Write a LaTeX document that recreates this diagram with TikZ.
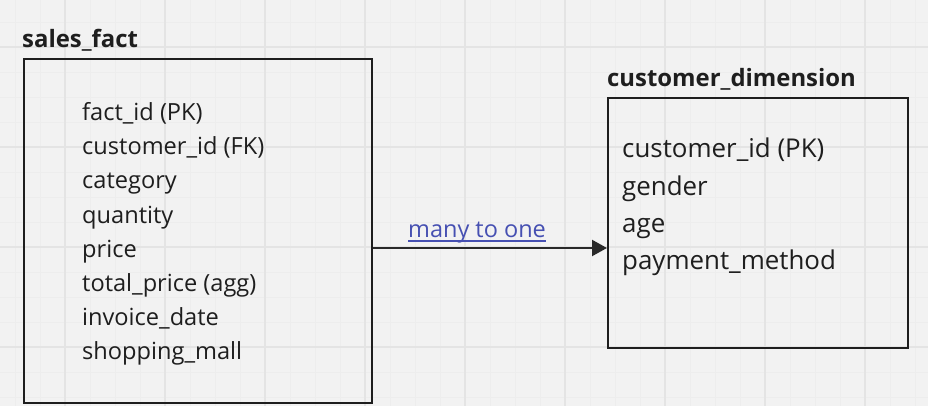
\documentclass[tikz,border=0pt]{standalone}
\usepackage{fontspec}
\setmainfont{Open Sans}
\usetikzlibrary{arrows.meta}
\definecolor{bgc}{HTML}{F2F2F2}
\definecolor{minorc}{HTML}{EDEDED}
\definecolor{majorc}{HTML}{E4E4E4}
\definecolor{ink}{HTML}{1E1E1E}
\definecolor{linkc}{RGB}{70,80,178}
\tikzset{
  tablebox/.style={draw=ink, line width=2.4pt, inner sep=0pt, anchor=north west},
  tabtitle/.style={anchor=base west, inner sep=0pt, text=ink, font=\fontsize{23.9}{28}\selectfont\bfseries},
  fieldL/.style={anchor=base west, inner sep=0pt, text=ink, font=\fontsize{23.6}{28}\selectfont},
  fieldR/.style={anchor=base west, inner sep=0pt, text=ink, font=\fontsize{25.9}{30}\selectfont},
  conn/.style={draw=ink!95, line width=2.2pt, -{Triangle[length=15pt,width=16pt]}},
  linklabel/.style={anchor=base west, inner sep=0pt, text=linkc, font=\fontsize{23.5}{28}\selectfont},
}
\begin{document}
\begin{tikzpicture}[x=1pt,y=-1pt]
\useasboundingbox (0,0) rectangle (928,406);
\fill[bgc] (0,0) rectangle (928,406);
% minor grid
\foreach \gx in {15,40,...,928} \draw[minorc, line width=0.8pt] (\gx,0) -- (\gx,406);
\foreach \gy in {22,47,...,406} \draw[minorc, line width=0.8pt] (0,\gy) -- (928,\gy);
% major grid
\foreach \gx in {65,165,...,928} \draw[majorc, line width=1.3pt] (\gx,0) -- (\gx,406);
\foreach \gy in {47,147,...,406} \draw[majorc, line width=1.3pt] (0,\gy) -- (928,\gy);

% sales_fact table
\node[tabtitle] (t1) at (22,48) {sales\_fact};
\node[tablebox, minimum width=348pt, minimum height=344pt] (sales) at (23,58) {};
\node[fieldL] (f1) at (82,121) {fact\_id (PK)};
\node[fieldL] (f2) at (82,155) {customer\_id (FK)};
\node[fieldL] (f3) at (82,189) {category};
\node[fieldL] (f4) at (82,223) {quantity};
\node[fieldL] (f5) at (82,257) {price};
\node[fieldL] (f6) at (82,291) {total\_price (agg)};
\node[fieldL] (f7) at (82,325) {invoice\_date};
\node[fieldL] (f8) at (82,359) {shopping\_mall};

% customer_dimension table
\node[tabtitle] (t2) at (607,87) {customer\_dimension};
\node[tablebox, minimum width=300pt, minimum height=250pt] (cust) at (607,97) {};
\node[fieldR] (c1) at (622,158) {customer\_id (PK)};
\node[fieldR] (c2) at (622,195) {gender};
\node[fieldR] (c3) at (622,232) {age};
\node[fieldR] (c4) at (622,269) {payment\_method};

% relationship
\coordinate (ay) at (0,248);
\draw[conn] (sales.east |- ay) -- (cust.west |- ay);
\node[linklabel] (lbl) at (408,237) {many to one};
\draw[linkc, line width=1.2pt] ([yshift=-4pt]lbl.base west) -- ([yshift=-4pt]lbl.base east);
\end{tikzpicture}
\end{document}
